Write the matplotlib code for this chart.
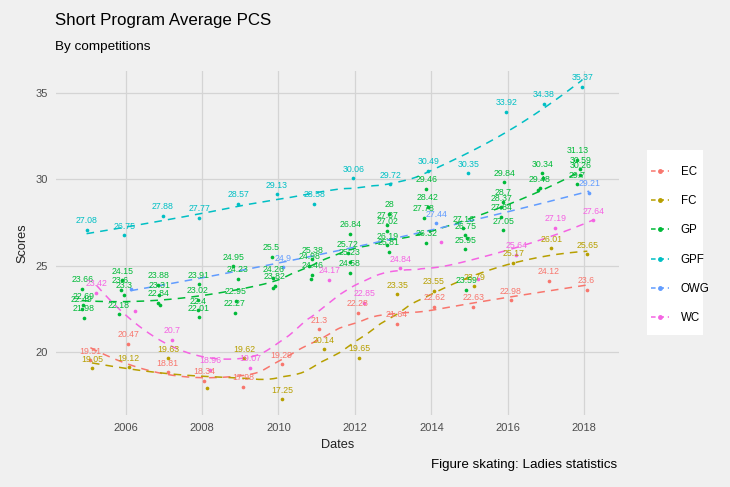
import numpy as np
import matplotlib
matplotlib.use("Agg")
import matplotlib.pyplot as plt
from matplotlib.lines import Line2D
from matplotlib.patches import Rectangle

plt.rcParams['font.family'] = ['Liberation Sans', 'DejaVu Sans']

# Data (x = date as decimal year, y = PCS average)
ec_x = [2005.08, 2006.07, 2007.10, 2008.05, 2009.08, 2010.08, 2011.07, 2012.07, 2013.10, 2014.08, 2015.10, 2016.08, 2017.08, 2018.06]
ec_y = [19.51, 20.47, 18.81, 18.34, 17.98, 19.29, 21.3, 22.28, 21.64, 22.62, 22.63, 22.98, 24.12, 23.6]
ec_hidden = []

fc_x = [2005.12, 2006.08, 2007.12, 2008.14, 2009.10, 2010.10, 2011.18, 2012.12, 2013.11, 2014.06, 2015.12, 2016.14, 2017.14, 2018.08]
fc_y = [19.05, 19.12, 19.63, 17.93, 19.62, 17.25, 20.14, 19.65, 23.35, 23.55, 23.79, 25.17, 26.01, 25.65]
fc_hidden = [3]

gp_x = [2004.87, 2004.89, 2004.85, 2004.90,
        2005.92, 2005.87, 2005.95, 2005.82,
        2006.86, 2006.88, 2006.86, 2006.90,
        2007.91, 2007.89, 2007.89, 2007.91,
        2008.82, 2008.93, 2008.88, 2008.86,
        2009.82, 2009.87, 2009.90, 2009.85,
        2010.89, 2010.81, 2010.89, 2010.86,
        2011.88, 2011.82, 2011.86, 2011.86,
        2012.90, 2012.85, 2012.85, 2012.85, 2012.88,
        2013.87, 2013.90, 2013.80, 2013.87,
        2014.84, 2014.89, 2014.92, 2014.89, 2014.91,
        2015.91, 2015.88, 2015.83, 2015.83, 2015.88,
        2016.90, 2016.92, 2016.83, 2016.80,
        2017.82, 2017.90, 2017.90, 2017.82]
gp_y = [23.66, 22.69, 22.49, 21.98,
        24.15, 23.6, 23.3, 22.18,
        23.88, 23.31, 22.84, 22.74,
        23.91, 23.02, 22.4, 22.01,
        24.95, 24.23, 22.95, 22.27,
        25.5, 24.26, 23.82, 23.72,
        25.38, 24.98, 24.46, 24.2,
        26.84, 25.72, 25.23, 24.58,
        28, 27.37, 27.02, 26.19, 25.81,
        29.46, 28.42, 27.78, 26.32,
        27.16, 26.75, 26.6, 25.95, 23.59,
        29.84, 28.7, 28.37, 27.84, 27.05,
        30.34, 30.1, 29.48, 29.4,
        31.13, 30.59, 30.26, 29.7]
gp_hidden = [11, 23, 27, 43, 52, 54]

gpf_x = [2004.98, 2005.97, 2006.97, 2007.93, 2008.95, 2009.95, 2010.94, 2011.96, 2012.93, 2013.92, 2014.97, 2015.96, 2016.95, 2017.95]
gpf_y = [27.08, 26.75, 27.88, 27.77, 28.57, 29.13, 28.58, 30.06, 29.72, 30.49, 30.35, 33.92, 34.38, 35.37]
gpf_hidden = []

owg_x = [2006.13, 2010.13, 2014.13, 2018.13]
owg_y = [23.65, 24.9, 27.44, 29.21]
owg_hidden = [0]

wc_x = [2005.24, 2006.24, 2007.22, 2008.22, 2009.26, 2011.33, 2012.25, 2013.19, 2014.24, 2015.23, 2016.22, 2017.24, 2018.24]
wc_y = [23.42, 22.37, 20.7, 18.96, 19.07, 24.17, 22.85, 24.84, 26.37, 24.2, 25.64, 27.19, 27.64]
wc_hidden = [1, 8, 9]

competitions = ["EC", "FC", "GP", "GPF", "OWG", "WC"]
colors = ["#F8766D", "#B79F00", "#00BA38", "#00BFC4", "#619CFF", "#F564E3"]
series = [(ec_x, ec_y, ec_hidden), (fc_x, fc_y, fc_hidden), (gp_x, gp_y, gp_hidden),
          (gpf_x, gpf_y, gpf_hidden), (owg_x, owg_y, owg_hidden), (wc_x, wc_y, wc_hidden)]


def loess(x, y, xs, span=0.75):
    # local quadratic fit with tricube weights, like R's loess default
    x = np.asarray(x, float)
    y = np.asarray(y, float)
    q = int(np.floor(len(x) * span))
    out = []
    for x0 in xs:
        d = np.abs(x - x0)
        h = np.sort(d)[q - 1] * 1.0001
        w = np.clip(1 - (d / h) ** 3, 0, None) ** 3
        A = np.vstack([np.ones_like(x), x - x0, (x - x0) ** 2]).T
        sw = np.sqrt(w)
        coef = np.linalg.lstsq(A * sw[:, None], y * sw, rcond=None)[0]
        out.append(coef[0])
    return np.array(out)


bg = "#F0F0F0"
fig = plt.figure(figsize=(7.3, 4.87), dpi=100, facecolor=bg)
ax = fig.add_axes([56 / 730, 1 - 415 / 487, (619 - 56) / 730, (415 - 71) / 487])
ax.set_facecolor(bg)

for (xs, ys, hidden), name, col in zip(series, competitions, colors):
    xs = np.array(xs)
    ys = np.array(ys)
    grid = np.linspace(xs.min(), xs.max(), 200)
    if len(xs) < 6:
        fit = np.polyval(np.polyfit(xs, ys, 2), grid)
    else:
        fit = loess(xs, ys, grid)
    ax.plot(grid, fit, color=col, lw=1.1, ls=(0, (5, 4)), zorder=2)
    ax.scatter(xs, ys, s=7, color=col, zorder=3, linewidths=0)
    for i, (xv, yv) in enumerate(zip(xs, ys)):
        if i in hidden:
            continue
        ax.annotate(f"{yv:g}", (xv, yv), xytext=(0, 6.5), textcoords="offset points",
                    ha="center", va="center", fontsize=6.3, color=col, zorder=4)

# ggplot-style 5% expansion around the points
all_x = np.concatenate([np.array(s[0]) for s in series])
all_y = np.concatenate([np.array(s[1]) for s in series])
dx = 0.05 * (all_x.max() - all_x.min())
dy = 0.05 * (all_y.max() - all_y.min())
ax.set_xlim(all_x.min() - dx, all_x.max() + dx)
ax.set_ylim(all_y.min() - dy, all_y.max() + dy)

ax.set_xticks(range(2006, 2019, 2))
ax.set_yticks([20, 25, 30, 35])
ax.grid(True, color="#D4D4D4", lw=0.9)
ax.set_axisbelow(True)
for s in ax.spines.values():
    s.set_visible(False)
ax.tick_params(length=0, labelsize=8, labelcolor="#4D4D4D", pad=6)
ax.set_xlabel("Dates", fontsize=9.2, color="#222222", labelpad=4)
ax.set_ylabel("Scores", fontsize=9.2, color="#222222", labelpad=5)

fig.text(55 / 730, 1 - 20 / 487, "Short Program Average PCS", fontsize=12.2, va="center", ha="left")
fig.text(55 / 730, 1 - 47 / 487, "By competitions", fontsize=9.7, va="center", ha="left")
fig.text(617 / 730, 1 - 465 / 487, "Figure skating: Ladies statistics", fontsize=9.6,
         va="center", ha="right")

# white legend panel
fig.patches.append(Rectangle((647 / 730, 1 - 335 / 487), 56 / 730, 185 / 487,
                             transform=fig.transFigure, facecolor="white", edgecolor="none", zorder=0))
handles = [Line2D([], [], color=c, lw=1.1, ls=(0, (3, 2.5)), marker="o", ms=2.5) for c in colors]
leg = fig.legend(handles, competitions, loc="center left", bbox_to_anchor=(645 / 730, 1 - 245 / 487),
                 frameon=False, fontsize=8.3, handlelength=1.6, labelspacing=1.5,
                 borderpad=0.5, borderaxespad=0, handletextpad=1.0)

fig.savefig("out.png", dpi=100, facecolor=bg)
